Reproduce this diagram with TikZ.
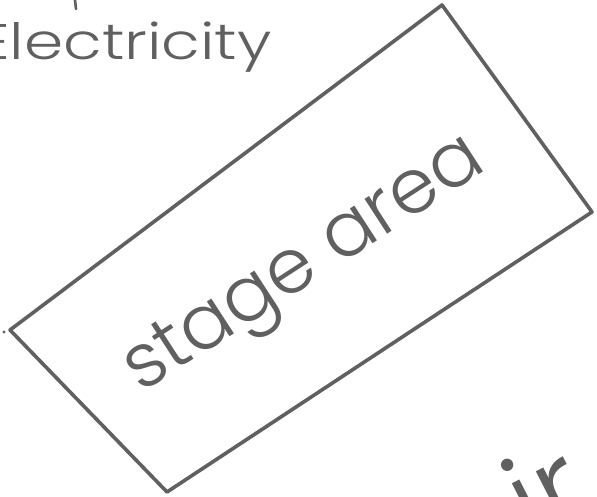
\documentclass[tikz,border=0pt]{standalone}
\usepackage{fontspec}
\newfontfamily\hand{Poppins Light}
\definecolor{ink}{HTML}{606060}
\begin{document}
\begin{tikzpicture}[x=1pt,y=-1pt,
  stroke/.style={draw=ink,line width=3.6pt,line join=round,line cap=round},
  label/.style={text=ink,inner sep=0pt,font=\hand}]
\useasboundingbox (0,0) rectangle (597,497);
\clip (0,0) rectangle (597,497);
\fill[white] (0,0) rectangle (597,497);
% stage rectangle
\coordinate (t) at (442,5);
\coordinate (r) at (592,212);
\coordinate (b) at (167,492);
\coordinate (l) at (10,330);
\draw[stroke] (t) -- (r) -- (b) -- (l) -- cycle;
\fill[ink] (4,332) circle (1.6);
% labels
\node[label,font=\hand\fontsize{76}{82}\selectfont,rotate=33] (stage) at (306,268) {stage area};
\node[label,font=\hand\fontsize{50}{56}\selectfont,anchor=base west] (elec) at (-22,60) {\scalebox{1.26}[1]{Electricity}};
\node[label,font=\hand\fontsize{120}{126}\selectfont,anchor=base west,rotate=27] (ir) at (533,547) {ir};
\coordinate (tick1) at (75,0);
\coordinate (tick2) at (76,9);
\draw[stroke,line width=2.6pt] (tick1) -- (tick2);
\end{tikzpicture}
\end{document}
